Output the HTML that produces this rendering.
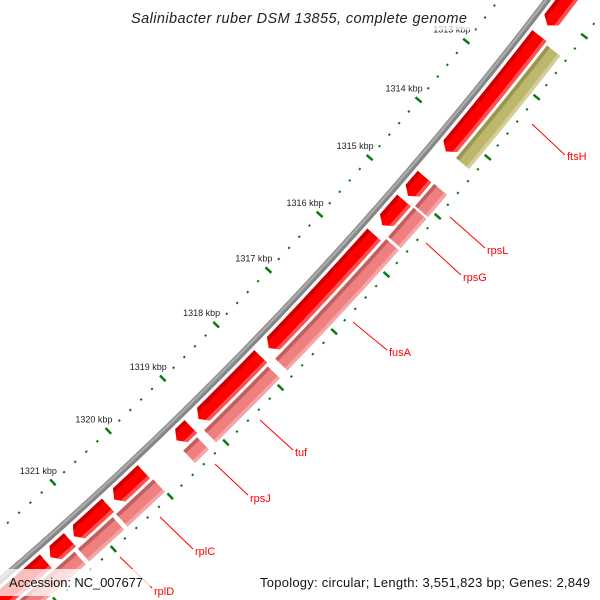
<!DOCTYPE html>
<html><head><meta charset="utf-8"><style>
html,body{margin:0;padding:0;background:#fff;width:600px;height:600px;overflow:hidden;}
svg{display:block;}
</style></head><body>
<svg id="s" width="600" height="600" viewBox="0 0 600 600" xmlns="http://www.w3.org/2000/svg">
<rect width="600" height="600" fill="#fff"/>
<g id="g"></g>
<rect x="125" y="3" width="350" height="27" fill="#fff" fill-opacity="0.7"/>
<text x="299" y="23" text-anchor="middle" font-family="Liberation Sans, sans-serif" font-style="italic" font-size="14.5" fill="#222" textLength="336" lengthAdjust="spacing">Salinibacter ruber DSM 13855, complete genome</text>
<rect x="0" y="569" width="150" height="27" fill="#fff" fill-opacity="0.75"/>
<text x="9" y="587" font-family="Liberation Sans, sans-serif" font-size="13" fill="#111" textLength="134">Accession: NC_007677</text>
<rect x="254" y="569" width="346" height="27" fill="#fff" fill-opacity="0.75"/>
<text x="260" y="587" font-family="Liberation Sans, sans-serif" font-size="13" fill="#111" textLength="330">Topology: circular; Length: 3,551,823 bp; Genes: 2,849</text>
</svg>
<script>
(function(){
var cx=-2489, cy=-2314, NS="http://www.w3.org/2000/svg";
var g=document.getElementById('g');
function P(k,r){var a=(39.70+(k-1314)*1.147)*Math.PI/180;return [cx+r*Math.cos(a),cy+r*Math.sin(a)];}
function el(t,at){var e=document.createElementNS(NS,t);for(var k in at)e.setAttribute(k,at[k]);g.appendChild(e);return e;}
function arcPts(k1,k2,r){var pts=[],n=Math.max(2,Math.ceil(Math.abs(k2-k1)/0.05));for(var i=0;i<=n;i++){pts.push(P(k1+(k2-k1)*i/n,r));}return pts;}
function ps(a){return a.map(function(p){return p[0].toFixed(2)+','+p[1].toFixed(2);}).join(' ');}
el('polyline',{points:ps(arcPts(1311.5,1323,3817.5)),fill:'none',stroke:'#858585','stroke-width':6.5});
el('polyline',{points:ps(arcPts(1311.5,1323,3816.5)),fill:'none',stroke:'#aaaaaa','stroke-width':2.5});
var id=0;
function gene(k1,k2,r1,r2,tip,cols){
  var t=0.09, pts;
  if(tip){pts=arcPts(k1,k2-t,r2).concat([P(k2,(r1+r2)/2)]).concat(arcPts(k2-t,k1,r1));}
  else{pts=arcPts(k1,k2,r2).concat(arcPts(k2,k1,r1));}
  id++;
  var cp=document.createElementNS(NS,'clipPath');cp.setAttribute('id','c'+id);
  var pp=document.createElementNS(NS,'polygon');pp.setAttribute('points',ps(pts));cp.appendChild(pp);g.appendChild(cp);
  el('polygon',{points:ps(pts),fill:cols[1]});
  var w=(r2-r1);
  var s1=arcPts(k1-0.2,k2+0.2,r1).concat(arcPts(k2+0.2,k1-0.2,r1+w*0.22));
  el('polygon',{points:ps(s1),fill:cols[0],'clip-path':'url(#c'+id+')'});
  var s2=arcPts(k1-0.2,k2+0.2,r2-w*0.2).concat(arcPts(k2+0.2,k1-0.2,r2));
  el('polygon',{points:ps(s2),fill:cols[2],'clip-path':'url(#c'+id+')'});
}
var RED=['#cc0000','#ff0000','#ff5050'], PINK=['#c06060','#f08080','#f5a5a5'], OLI=['#9a9550','#bdb76b','#d4cf98'];
var R1=3824,R2=3842,Q1=3845,Q2=3862;
gene(1311.3,1312.18,R1,R2,true,RED);
gene(1312.35,1314.29,R1,R2,true,RED);
gene(1314.72,1315.05,R1,R2,true,RED);
gene(1315.13,1315.56,R1,R2,true,RED);
gene(1315.72,1317.74,R1,R2,true,RED);
gene(1317.89,1319.04,R1,R2,true,RED);
gene(1319.18,1319.44,R1,R2,true,RED);
gene(1320.03,1320.56,R1,R2,true,RED);
gene(1320.67,1321.27,R1,R2,true,RED);
gene(1321.34,1321.68,R1,R2,true,RED);
gene(1321.76,1323,R1,R2,false,RED);
gene(1312.39,1314.27,Q1,Q2,false,OLI);
gene(1314.71,1315.09,Q1,Q2,false,PINK);
gene(1315.12,1315.62,Q1,Q2,false,PINK);
gene(1315.66,1317.78,Q1,Q2,false,PINK);
gene(1317.92,1319.09,Q1,Q2,false,PINK);
gene(1319.22,1319.47,Q1,Q2,false,PINK);
gene(1320.01,1320.67,Q1,Q2,false,PINK);
gene(1320.73,1321.34,Q1,Q2,false,PINK);
gene(1321.40,1323,Q1,Q2,false,PINK);
var GR='#0a7a0a';
function ring(r){
  for(var i=0;i<=60;i++){var k=1311.4+i*0.2;var major=Math.abs(k-Math.round(k))<0.01;
    var a=P(k,r-(major?4:1)),b=P(k,r+(major?4:1));
    el('line',{x1:a[0],y1:a[1],x2:b[0],y2:b[1],stroke:GR,'stroke-width':major?2.5:2.2});}
}
ring(3779);ring(3869);
for(var k=1313;k<=1321;k++){var p=P(k,3779);
  var t=el('text',{x:(p[0]+4).toFixed(1),y:(p[1]-8.5).toFixed(1),'text-anchor':'end','font-family':'Liberation Sans, sans-serif','font-size':'9',fill:'#222'});
  t.textContent=k+' kbp';}
var L=[['ftsH',532,124,565,155,567,160],['rpsL',450,217,485,248,487,254],['rpsG',426,243,461,275,463,281],['fusA',353,322,387,350,389,356],['tuf',260,420,293,450,295,456],['rpsJ',215,464,248,495,250,502],['rplC',160,517,193,549,195,555],['rplD',120,557,152,588,154,595]];
L.forEach(function(l){el('line',{x1:l[1],y1:l[2],x2:l[3],y2:l[4],stroke:'#ff0000','stroke-width':1});
  var t=el('text',{x:l[5],y:l[6],'font-family':'Liberation Sans, sans-serif','font-size':'11',fill:'#ff0000'});t.textContent=l[0];});
})();
</script>
</body></html>
